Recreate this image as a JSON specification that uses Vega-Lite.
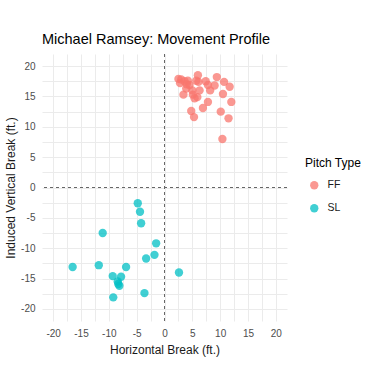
{
  "$schema": "https://vega.github.io/schema/vega-lite/v6.json",
  "autosize": {"type": "none"},
  "width": 245,
  "height": 267,
  "padding": {"left": 42, "top": 54, "right": 91, "bottom": 67},
  "background": "white",
  "config": {
    "font": "Liberation Sans",
    "view": {"stroke": null},
    "axis": {
      "domain": false,
      "ticks": false,
      "labelColor": "#4d4d4d",
      "labelFontSize": 10,
      "labelOverlap": false,
      "labelFlush": false,
      "titleColor": "#1a1a1a",
      "titleFontSize": 12,
      "titleFontWeight": "normal",
      "gridColor": "#ebebeb"
    }
  },
  "title": {
    "text": "Michael Ramsey: Movement Profile",
    "anchor": "start",
    "frame": "group",
    "fontSize": 14.5,
    "fontWeight": "normal",
    "color": "#000000",
    "offset": 6
  },
  "data": {
    "values": [
      {"h": 2.5, "v": 17.9, "pitch": "FF"},
      {"h": 3.0, "v": 17.8, "pitch": "FF"},
      {"h": 3.6, "v": 17.5, "pitch": "FF"},
      {"h": 4.2, "v": 17.6, "pitch": "FF"},
      {"h": 4.5, "v": 16.9, "pitch": "FF"},
      {"h": 3.9, "v": 16.3, "pitch": "FF"},
      {"h": 3.4, "v": 15.3, "pitch": "FF"},
      {"h": 5.1, "v": 15.3, "pitch": "FF"},
      {"h": 5.4, "v": 14.7, "pitch": "FF"},
      {"h": 5.9, "v": 14.9, "pitch": "FF"},
      {"h": 6.0, "v": 18.5, "pitch": "FF"},
      {"h": 5.7, "v": 17.6, "pitch": "FF"},
      {"h": 6.1, "v": 17.4, "pitch": "FF"},
      {"h": 6.3, "v": 16.0, "pitch": "FF"},
      {"h": 7.4, "v": 17.5, "pitch": "FF"},
      {"h": 7.8, "v": 16.9, "pitch": "FF"},
      {"h": 9.0, "v": 16.8, "pitch": "FF"},
      {"h": 8.2, "v": 16.0, "pitch": "FF"},
      {"h": 9.4, "v": 18.2, "pitch": "FF"},
      {"h": 10.7, "v": 17.4, "pitch": "FF"},
      {"h": 11.7, "v": 16.6, "pitch": "FF"},
      {"h": 10.5, "v": 15.4, "pitch": "FF"},
      {"h": 12.0, "v": 14.1, "pitch": "FF"},
      {"h": 7.8, "v": 14.1, "pitch": "FF"},
      {"h": 6.9, "v": 13.1, "pitch": "FF"},
      {"h": 4.8, "v": 12.6, "pitch": "FF"},
      {"h": 5.3, "v": 11.6, "pitch": "FF"},
      {"h": 10.1, "v": 12.5, "pitch": "FF"},
      {"h": 11.5, "v": 11.4, "pitch": "FF"},
      {"h": 10.4, "v": 8.0, "pitch": "FF"},
      {"h": 4.0, "v": 17.0, "pitch": "FF"},
      {"h": 5.0, "v": 16.0, "pitch": "FF"},
      {"h": 2.8, "v": 17.2, "pitch": "FF"},
      {"h": -4.8, "v": -2.6, "pitch": "SL"},
      {"h": -4.4, "v": -4.0, "pitch": "SL"},
      {"h": -4.2, "v": -5.9, "pitch": "SL"},
      {"h": -11.1, "v": -7.5, "pitch": "SL"},
      {"h": -1.5, "v": -9.2, "pitch": "SL"},
      {"h": -1.8, "v": -11.1, "pitch": "SL"},
      {"h": -3.3, "v": -11.7, "pitch": "SL"},
      {"h": -16.5, "v": -13.1, "pitch": "SL"},
      {"h": -11.8, "v": -12.8, "pitch": "SL"},
      {"h": -6.9, "v": -13.1, "pitch": "SL"},
      {"h": 2.6, "v": -14.0, "pitch": "SL"},
      {"h": -9.3, "v": -14.6, "pitch": "SL"},
      {"h": -7.8, "v": -14.7, "pitch": "SL"},
      {"h": -8.4, "v": -15.5, "pitch": "SL"},
      {"h": -8.1, "v": -16.2, "pitch": "SL"},
      {"h": -8.3, "v": -15.9, "pitch": "SL"},
      {"h": -3.6, "v": -17.4, "pitch": "SL"},
      {"h": -9.2, "v": -18.1, "pitch": "SL"}
    ]
  },
  "layer": [
    {
      "mark": {"type": "point", "filled": true, "opacity": 0.75, "size": 70, "shape": "circle"},
      "encoding": {
        "x": {
          "field": "h", "type": "quantitative",
          "scale": {"domain": [-22, 22], "nice": false, "zero": false},
          "axis": {
            "title": "Horizontal Break (ft.)",
            "values": [-20, -17.5, -15, -12.5, -10, -7.5, -5, -2.5, 0, 2.5, 5, 7.5, 10, 12.5, 15, 17.5, 20],
            "labelExpr": "datum.value % 5 === 0 ? toString(datum.value) : ''",
            "labelOverlap": false,
            "labelPadding": 7,
            "titlePadding": 6
          }
        },
        "y": {
          "field": "v", "type": "quantitative",
          "scale": {"domain": [-22, 22], "nice": false, "zero": false},
          "axis": {
            "title": "Induced Vertical Break (ft.)",
            "values": [-20, -17.5, -15, -12.5, -10, -7.5, -5, -2.5, 0, 2.5, 5, 7.5, 10, 12.5, 15, 17.5, 20],
            "labelExpr": "datum.value % 5 === 0 ? toString(datum.value) : ''",
            "labelOverlap": false,
            "labelPadding": 7,
            "titlePadding": 3
          }
        },
        "color": {
          "field": "pitch", "type": "nominal",
          "scale": {"domain": ["FF", "SL"], "range": ["#F8766D", "#00BFC4"]},
          "legend": {
            "title": "Pitch Type",
            "orient": "none",
            "legendX": 263,
            "legendY": 104,
            "titleFontSize": 12,
            "titleFontWeight": "normal",
            "titleColor": "#000000",
            "labelFontSize": 10.5,
            "labelColor": "#1a1a1a",
            "symbolSize": 70,
            "symbolOpacity": 0.75,
            "rowPadding": 12,
            "titlePadding": 10,
            "symbolOffset": 4,
            "labelOffset": 8
          }
        }
      }
    },
    {
      "mark": {"type": "rule", "color": "#666666", "strokeDash": [3, 3], "strokeWidth": 1},
      "encoding": {
        "x": {
          "datum": 0, "type": "quantitative",
          "axis": {
            "title": "Horizontal Break (ft.)",
            "values": [-20, -17.5, -15, -12.5, -10, -7.5, -5, -2.5, 0, 2.5, 5, 7.5, 10, 12.5, 15, 17.5, 20],
            "labelExpr": "datum.value % 5 === 0 ? toString(datum.value) : ''",
            "labelOverlap": false,
            "labelPadding": 7,
            "titlePadding": 6
          }
        }
      }
    },
    {
      "mark": {"type": "rule", "color": "#666666", "strokeDash": [3, 3], "strokeWidth": 1},
      "encoding": {
        "y": {
          "datum": 0, "type": "quantitative",
          "axis": {
            "title": "Induced Vertical Break (ft.)",
            "values": [-20, -17.5, -15, -12.5, -10, -7.5, -5, -2.5, 0, 2.5, 5, 7.5, 10, 12.5, 15, 17.5, 20],
            "labelExpr": "datum.value % 5 === 0 ? toString(datum.value) : ''",
            "labelOverlap": false,
            "labelPadding": 7,
            "titlePadding": 3
          }
        }
      }
    }
  ]
}
